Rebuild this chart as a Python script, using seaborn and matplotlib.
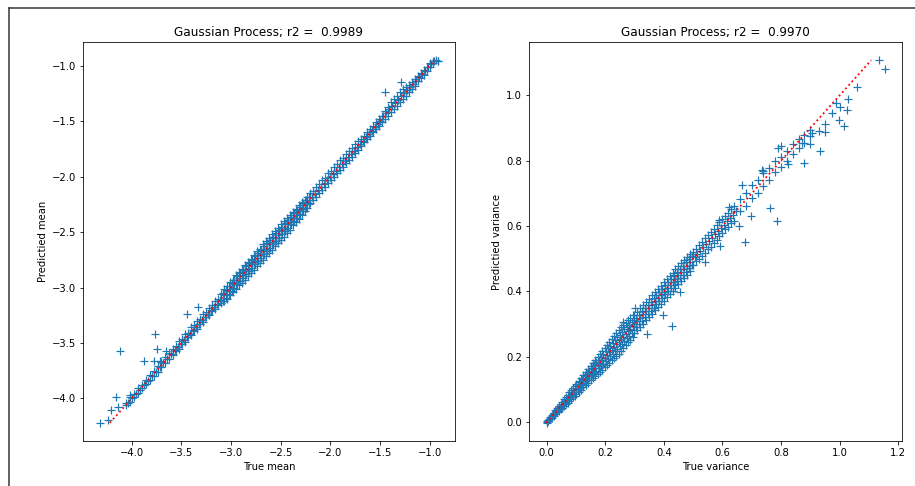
import matplotlib
matplotlib.use("Agg")
import matplotlib.pyplot as plt
from matplotlib.lines import Line2D
import seaborn as sns

# Left panel: true mean vs predicted mean
true_mean = [
    -4.06, -4.06, -4.02, -4.02, -3.98, -3.98, -3.94, -3.94, -3.90, -3.90, -3.86, -3.86,
    -3.82, -3.82, -3.78, -3.78, -3.74, -3.74, -3.70, -3.70, -3.66, -3.66, -3.62, -3.62,
    -3.58, -3.58, -3.55, -3.55, -3.52, -3.52, -3.49, -3.49, -3.46, -3.46, -3.43, -3.43,
    -3.40, -3.40, -3.37, -3.37, -3.34, -3.34, -3.31, -3.31, -3.28, -3.28, -3.25, -3.25,
    -3.22, -3.22, -3.19, -3.19, -3.16, -3.16, -3.13, -3.13, -3.10, -3.10,
    -3.07, -3.07, -3.07, -3.04, -3.04, -3.04, -3.01, -3.01, -3.01, -2.98, -2.98, -2.98,
    -2.95, -2.95, -2.95, -2.92, -2.92, -2.92, -2.89, -2.89, -2.89, -2.86, -2.86, -2.86,
    -2.83, -2.83, -2.83, -2.80, -2.80, -2.80, -2.77, -2.77, -2.77, -2.74, -2.74, -2.74,
    -2.71, -2.71, -2.71, -2.68, -2.68, -2.68, -2.65, -2.65, -2.65, -2.62, -2.62, -2.62,
    -2.59, -2.59, -2.59, -2.56, -2.56, -2.56, -2.53, -2.53, -2.53, -2.50, -2.50, -2.50,
    -2.47, -2.47, -2.47, -2.44, -2.44, -2.44, -2.41, -2.41, -2.41, -2.38, -2.38, -2.38,
    -2.35, -2.35, -2.35, -2.32, -2.32, -2.32, -2.29, -2.29, -2.29, -2.26, -2.26, -2.26,
    -2.23, -2.23, -2.23,
    -2.20, -2.20, -2.17, -2.17, -2.14, -2.14, -2.11, -2.11, -2.08, -2.08, -2.05, -2.05,
    -2.02, -2.02, -1.99, -1.99, -1.96, -1.96, -1.93, -1.93, -1.90, -1.90, -1.87, -1.87,
    -1.84, -1.84, -1.81, -1.81, -1.78, -1.78, -1.75, -1.75, -1.72, -1.72,
    -1.69, -1.69, -1.66, -1.66, -1.63, -1.63, -1.60, -1.60, -1.57, -1.57, -1.54, -1.54,
    -1.51, -1.51, -1.48, -1.48, -1.45, -1.45, -1.42, -1.42, -1.39, -1.39, -1.36, -1.36,
    -1.33, -1.33, -1.30, -1.30, -1.27, -1.27, -1.24, -1.24, -1.21, -1.21, -1.18, -1.18,
    -1.15, -1.15, -1.12, -1.12, -1.09, -1.09, -1.06, -1.06, -1.03, -1.03, -1.00, -1.00,
    -0.97, -0.97, -0.94, -0.92,
    # scattered points
    -4.32, -4.24, -4.21, -4.14, -4.16, -4.12, -4.02, -3.88, -3.77, -3.75, -3.78, -3.71,
    -3.655, -3.44, -3.33, -1.45, -1.29, -0.915,
]
pred_mean = [
    -4.04, -4.06, -3.99, -4.03, -3.96, -3.99, -3.91, -3.95, -3.88, -3.91, -3.83, -3.87,
    -3.79, -3.83, -3.75, -3.80, -3.71, -3.76, -3.67, -3.72, -3.63, -3.68, -3.59, -3.64,
    -3.55, -3.61, -3.53, -3.57, -3.48, -3.55, -3.46, -3.51, -3.42, -3.49, -3.41, -3.45,
    -3.36, -3.43, -3.34, -3.39, -3.30, -3.37, -3.28, -3.33, -3.24, -3.31, -3.22, -3.27,
    -3.18, -3.25, -3.16, -3.21, -3.12, -3.19, -3.10, -3.16, -3.06, -3.14,
    -3.01, -3.07, -3.12, -2.99, -3.03, -3.10, -2.95, -3.01, -3.07, -2.93, -2.97, -3.04,
    -2.89, -2.95, -3.01, -2.86, -2.91, -2.98, -2.83, -2.89, -2.96, -2.80, -2.85, -2.93,
    -2.77, -2.83, -2.90, -2.74, -2.79, -2.87, -2.71, -2.77, -2.84, -2.67, -2.73, -2.81,
    -2.65, -2.71, -2.78, -2.61, -2.67, -2.75, -2.58, -2.65, -2.72, -2.55, -2.61, -2.69,
    -2.52, -2.59, -2.66, -2.49, -2.55, -2.63, -2.46, -2.53, -2.60, -2.43, -2.49, -2.57,
    -2.40, -2.47, -2.54, -2.37, -2.43, -2.51, -2.35, -2.41, -2.48, -2.32, -2.37, -2.44,
    -2.29, -2.35, -2.41, -2.26, -2.31, -2.38, -2.23, -2.29, -2.35, -2.21, -2.25, -2.31,
    -2.18, -2.23, -2.28,
    -2.15, -2.24, -2.13, -2.21, -2.09, -2.18, -2.07, -2.15, -2.03, -2.12, -2.01, -2.09,
    -1.97, -2.06, -1.95, -2.03, -1.91, -2.00, -1.89, -1.97, -1.85, -1.94, -1.83, -1.91,
    -1.80, -1.88, -1.77, -1.85, -1.74, -1.82, -1.71, -1.79, -1.68, -1.76,
    -1.66, -1.72, -1.63, -1.69, -1.60, -1.66, -1.57, -1.63, -1.54, -1.60, -1.51, -1.57,
    -1.48, -1.54, -1.45, -1.51, -1.41, -1.48, -1.37, -1.45, -1.33, -1.42, -1.30, -1.39,
    -1.27, -1.36, -1.24, -1.33, -1.21, -1.30, -1.19, -1.27, -1.17, -1.24, -1.15, -1.21,
    -1.12, -1.18, -1.09, -1.14, -1.07, -1.11, -1.04, -1.08, -1.01, -1.05, -0.98, -1.01,
    -0.96, -0.98, -0.95, -0.96,
    # scattered points
    -4.22, -4.19, -4.10, -4.08, -3.99, -3.57, -3.97, -3.66, -3.42, -3.55, -3.66, -3.66,
    -3.575, -3.235, -3.175, -1.235, -1.144, -0.958,
]

# extra points filling the inside of the dense band (left panel)
true_mean_fill = [
    -4.04, -4.00, -3.96, -3.92, -3.88, -3.84, -3.80, -3.76, -3.72, -3.68, -3.64, -3.60,
    -3.565, -3.535, -3.505, -3.475, -3.445, -3.415, -3.385, -3.355, -3.325, -3.295,
    -3.265, -3.235, -3.205, -3.175, -3.145, -3.115,
    -3.085, -3.055, -3.025, -2.995, -2.965, -2.935, -2.905, -2.875, -2.845, -2.815,
    -2.785, -2.755, -2.725, -2.695, -2.665, -2.635, -2.605, -2.575, -2.545, -2.515,
    -2.485, -2.455, -2.425, -2.395, -2.365, -2.335, -2.305, -2.275, -2.245, -2.215,
    -3.085, -3.055, -3.025, -2.995, -2.965, -2.935, -2.905, -2.875, -2.845, -2.815,
    -2.785, -2.755, -2.725, -2.695, -2.665, -2.635, -2.605, -2.575, -2.545, -2.515,
    -2.485, -2.455, -2.425, -2.395, -2.365, -2.335, -2.305, -2.275, -2.245, -2.215,
    -2.185, -2.155, -2.125, -2.095, -2.065, -2.035, -2.005, -1.975, -1.945, -1.915,
    -1.885, -1.855, -1.825, -1.795, -1.765, -1.735, -1.705,
    -1.675, -1.645, -1.615, -1.585, -1.555, -1.525, -1.495, -1.465, -1.435, -1.405,
    -1.375, -1.345, -1.315, -1.285, -1.255, -1.225, -1.195, -1.165, -1.135, -1.105,
    -1.075, -1.045, -1.015, -0.985, -0.955,
]
pred_mean_fill = [
    -4.04, -4.00, -3.96, -3.92, -3.88, -3.84, -3.80, -3.76, -3.72, -3.68, -3.64, -3.60,
    -3.565, -3.535, -3.505, -3.475, -3.445, -3.415, -3.385, -3.355, -3.325, -3.295,
    -3.265, -3.235, -3.205, -3.175, -3.145, -3.115,
    -3.05, -3.02, -2.99, -2.96, -2.93, -2.90, -2.87, -2.84, -2.81, -2.78,
    -2.75, -2.72, -2.69, -2.66, -2.63, -2.60, -2.57, -2.54, -2.51, -2.48,
    -2.45, -2.42, -2.39, -2.36, -2.33, -2.30, -2.27, -2.24, -2.21, -2.18,
    -3.12, -3.09, -3.06, -3.03, -3.00, -2.97, -2.94, -2.91, -2.88, -2.85,
    -2.82, -2.79, -2.76, -2.73, -2.70, -2.67, -2.64, -2.61, -2.58, -2.55,
    -2.52, -2.49, -2.46, -2.43, -2.40, -2.37, -2.34, -2.31, -2.28, -2.25,
    -2.185, -2.155, -2.125, -2.095, -2.065, -2.035, -2.005, -1.975, -1.945, -1.915,
    -1.885, -1.855, -1.825, -1.795, -1.765, -1.735, -1.705,
    -1.675, -1.645, -1.615, -1.585, -1.555, -1.525, -1.495, -1.455, -1.425, -1.395,
    -1.365, -1.335, -1.305, -1.275, -1.245, -1.215, -1.195, -1.165, -1.135, -1.105,
    -1.075, -1.045, -1.015, -0.985, -0.955,
]

# Right panel: true variance vs predicted variance
true_var = [
    0.000, 0.000, 0.006, 0.006, 0.012, 0.012, 0.018, 0.018, 0.024, 0.024, 0.030, 0.030,
    0.036, 0.036, 0.042, 0.042, 0.048, 0.048, 0.054, 0.054, 0.060, 0.060, 0.066, 0.066,
    0.072, 0.072, 0.078, 0.078, 0.084, 0.084, 0.090, 0.090, 0.096, 0.096,
    0.102, 0.102, 0.102, 0.110, 0.110, 0.110, 0.118, 0.118, 0.118, 0.126, 0.126, 0.126,
    0.134, 0.134, 0.134, 0.142, 0.142, 0.142, 0.150, 0.150, 0.150, 0.158, 0.158, 0.158,
    0.166, 0.166, 0.166, 0.174, 0.174, 0.174, 0.182, 0.182, 0.182, 0.190, 0.190, 0.190,
    0.198, 0.198, 0.198, 0.206, 0.206, 0.206, 0.214, 0.214, 0.214, 0.222, 0.222, 0.222,
    0.230, 0.230, 0.230, 0.238, 0.238, 0.238, 0.246, 0.246, 0.246, 0.254, 0.254, 0.254,
    0.262, 0.262, 0.262, 0.270, 0.270, 0.270, 0.278, 0.278, 0.278, 0.286, 0.286, 0.286,
    0.294, 0.294, 0.294,
    0.30, 0.30, 0.30, 0.31, 0.31, 0.31, 0.32, 0.32, 0.32, 0.33, 0.33, 0.33,
    0.34, 0.34, 0.34, 0.35, 0.35, 0.35, 0.36, 0.36, 0.36, 0.37, 0.37, 0.37,
    0.38, 0.38, 0.38, 0.39, 0.39, 0.39, 0.40, 0.40, 0.40, 0.41, 0.41, 0.41,
    0.42, 0.42, 0.42, 0.43, 0.43, 0.43, 0.44, 0.44, 0.44, 0.45, 0.45, 0.45,
    0.46, 0.46, 0.46, 0.47, 0.47, 0.47, 0.48, 0.48, 0.48, 0.49, 0.49, 0.49,
    0.50, 0.50, 0.51, 0.51, 0.52, 0.52, 0.53, 0.53, 0.54, 0.54, 0.55, 0.55,
    0.56, 0.56, 0.57, 0.57, 0.58, 0.58, 0.59, 0.59, 0.60, 0.60, 0.61, 0.61,
    0.62, 0.62, 0.63, 0.63, 0.64, 0.64,
    0.66, 0.66, 0.68, 0.68, 0.70, 0.70, 0.72, 0.72, 0.74, 0.74, 0.76, 0.76,
    0.78, 0.78, 0.80, 0.80, 0.82, 0.82, 0.84, 0.84, 0.86, 0.86, 0.88, 0.88, 0.90, 0.90,
    # scattered points
    1.135, 1.155, 1.061, 1.030, 0.988, 1.025, 1.002, 0.974, 0.999, 1.016, 0.949, 0.951,
    0.932, 0.877, 0.823, 0.791, 0.800, 0.764, 0.787, 0.696, 0.678, 0.657, 0.592, 0.539,
    0.455, 0.428, 0.396, 0.342, 0.302, 0.260, 0.668, 0.734, 0.740, 0.587, 0.623, 0.872,
    0.906, 0.929, 0.900,
]
pred_var = [
    0.001, -0.002, 0.008, 0.004, 0.015, 0.009, 0.022, 0.014, 0.029, 0.019, 0.036, 0.025,
    0.042, 0.030, 0.049, 0.035, 0.056, 0.040, 0.063, 0.045, 0.070, 0.050, 0.077, 0.055,
    0.084, 0.060, 0.091, 0.065, 0.098, 0.071, 0.105, 0.076, 0.112, 0.081,
    0.118, 0.102, 0.086, 0.127, 0.110, 0.093, 0.136, 0.118, 0.100, 0.145, 0.126, 0.107,
    0.154, 0.134, 0.114, 0.163, 0.142, 0.121, 0.172, 0.150, 0.128, 0.182, 0.158, 0.134,
    0.191, 0.166, 0.141, 0.200, 0.174, 0.148, 0.210, 0.182, 0.154, 0.219, 0.190, 0.161,
    0.228, 0.198, 0.168, 0.237, 0.206, 0.175, 0.246, 0.214, 0.182, 0.255, 0.222, 0.189,
    0.264, 0.230, 0.196, 0.273, 0.238, 0.203, 0.282, 0.246, 0.210, 0.290, 0.254, 0.218,
    0.298, 0.262, 0.226, 0.305, 0.270, 0.235, 0.312, 0.278, 0.244, 0.320, 0.286, 0.252,
    0.327, 0.294, 0.261,
    0.328, 0.300, 0.272, 0.338, 0.310, 0.282, 0.348, 0.319, 0.292, 0.358, 0.330, 0.302,
    0.368, 0.339, 0.312, 0.378, 0.350, 0.322, 0.388, 0.359, 0.332, 0.398, 0.370, 0.342,
    0.408, 0.379, 0.352, 0.418, 0.390, 0.362, 0.428, 0.399, 0.372, 0.438, 0.410, 0.382,
    0.448, 0.419, 0.392, 0.458, 0.430, 0.402, 0.468, 0.439, 0.412, 0.478, 0.450, 0.422,
    0.488, 0.459, 0.432, 0.497, 0.470, 0.442, 0.506, 0.479, 0.452, 0.515, 0.490, 0.463,
    0.522, 0.480, 0.530, 0.492, 0.543, 0.499, 0.551, 0.510, 0.563, 0.518, 0.572, 0.530,
    0.583, 0.537, 0.591, 0.549, 0.603, 0.557, 0.612, 0.570, 0.622, 0.578, 0.632, 0.590,
    0.641, 0.597, 0.652, 0.610, 0.661, 0.617,
    0.682, 0.645, 0.700, 0.662, 0.725, 0.685, 0.740, 0.700, 0.762, 0.722, 0.778, 0.742,
    0.800, 0.765, 0.812, 0.782, 0.830, 0.800, 0.851, 0.822, 0.866, 0.838, 0.880, 0.855,
    0.895, 0.875,
    # scattered points
    1.108, 1.082, 1.025, 0.990, 0.977, 0.956, 0.964, 0.946, 0.926, 0.907, 0.913, 0.887,
    0.831, 0.793, 0.791, 0.839, 0.844, 0.656, 0.617, 0.630, 0.552, 0.600, 0.539, 0.491,
    0.398, 0.294, 0.328, 0.269, 0.351, 0.308, 0.726, 0.773, 0.770, 0.620, 0.658, 0.855,
    0.885, 0.890, 0.850,
]

# extra points filling the inside of the dense band (right panel)
true_var_fill = [
    0.003, 0.009, 0.015, 0.021, 0.027, 0.033, 0.039, 0.045, 0.051, 0.057, 0.063, 0.069,
    0.075, 0.081, 0.087, 0.093, 0.099,
    0.106, 0.114, 0.122, 0.130, 0.138, 0.146, 0.154, 0.162, 0.170, 0.178, 0.186, 0.194,
    0.202, 0.210, 0.218, 0.226, 0.234, 0.242, 0.250, 0.258, 0.266, 0.274, 0.282, 0.290, 0.298,
    0.106, 0.114, 0.122, 0.130, 0.138, 0.146, 0.154, 0.162, 0.170, 0.178, 0.186, 0.194,
    0.202, 0.210, 0.218, 0.226, 0.234, 0.242, 0.250, 0.258, 0.266, 0.274, 0.282, 0.290, 0.298,
    0.305, 0.315, 0.325, 0.335, 0.345, 0.355, 0.365, 0.375, 0.385, 0.395,
    0.405, 0.415, 0.425, 0.435, 0.445, 0.455, 0.465, 0.475, 0.485, 0.495,
    0.305, 0.315, 0.325, 0.335, 0.345, 0.355, 0.365, 0.375, 0.385, 0.395,
    0.405, 0.415, 0.425, 0.435, 0.445, 0.455, 0.465, 0.475, 0.485, 0.495,
    0.505, 0.515, 0.525, 0.535, 0.545, 0.555, 0.565, 0.575, 0.585, 0.595,
    0.605, 0.615, 0.625, 0.635, 0.645,
]
pred_var_fill = [
    0.003, 0.009, 0.015, 0.021, 0.027, 0.033, 0.039, 0.045, 0.051, 0.057, 0.063, 0.069,
    0.075, 0.081, 0.087, 0.093, 0.099,
    0.114, 0.123, 0.131, 0.140, 0.148, 0.157, 0.165, 0.174, 0.183, 0.191, 0.200, 0.209,
    0.217, 0.226, 0.234, 0.243, 0.251, 0.260, 0.268, 0.276, 0.284, 0.291, 0.299, 0.307, 0.314,
    0.098, 0.105, 0.113, 0.120, 0.128, 0.135, 0.143, 0.150, 0.157, 0.165, 0.172, 0.179,
    0.187, 0.194, 0.202, 0.209, 0.217, 0.224, 0.232, 0.240, 0.248, 0.257, 0.265, 0.273, 0.282,
    0.319, 0.329, 0.339, 0.349, 0.359, 0.369, 0.379, 0.389, 0.399, 0.409,
    0.419, 0.429, 0.439, 0.449, 0.459, 0.469, 0.479, 0.489, 0.499, 0.509,
    0.291, 0.301, 0.311, 0.321, 0.331, 0.341, 0.351, 0.361, 0.371, 0.381,
    0.391, 0.401, 0.411, 0.421, 0.431, 0.441, 0.451, 0.461, 0.471, 0.481,
    0.505, 0.515, 0.525, 0.535, 0.545, 0.555, 0.565, 0.575, 0.585, 0.595,
    0.605, 0.615, 0.625, 0.635, 0.645,
]

panels = [
    (true_mean + true_mean_fill, pred_mean + pred_mean_fill, pred_mean,
     "Gaussian Process; r2 =  0.9989", "True mean", "Predictied mean"),
    (true_var + true_var_fill, pred_var + pred_var_fill, pred_var,
     "Gaussian Process; r2 =  0.9970", "True variance", "Predictied variance"),
]

fig = plt.figure(figsize=(915 / 72, 486 / 72), dpi=72)
positions = [[83 / 915, 45 / 486, 372 / 915, 399 / 486],
             [529 / 915, 45 / 486, 373 / 915, 399 / 486]]

for pos, (tx, py, pred_only, title, xl, yl) in zip(positions, panels):
    ax = fig.add_axes(pos)
    sns.scatterplot(x=tx, y=py, ax=ax, marker="+", s=56, linewidth=1.2, color="#1f77b4")
    line_pts = sorted(pred_only)
    sns.lineplot(x=line_pts, y=line_pts, ax=ax, color="red", linestyle=":",
                 linewidth=1.8, estimator=None, sort=True, zorder=3)
    ax.set_title(title, fontsize=12)
    ax.set_xlabel(xl)
    ax.set_ylabel(yl)

# screenshot frame lines
fig.add_artist(Line2D([8.5 / 915, 8.5 / 915], [0, 1 - 8 / 486], color="#333333", lw=1.5))
fig.add_artist(Line2D([8.5 / 915, 1], [1 - 8 / 486, 1 - 8 / 486], color="#333333", lw=1.5))

fig.savefig("out.png", dpi=72)
